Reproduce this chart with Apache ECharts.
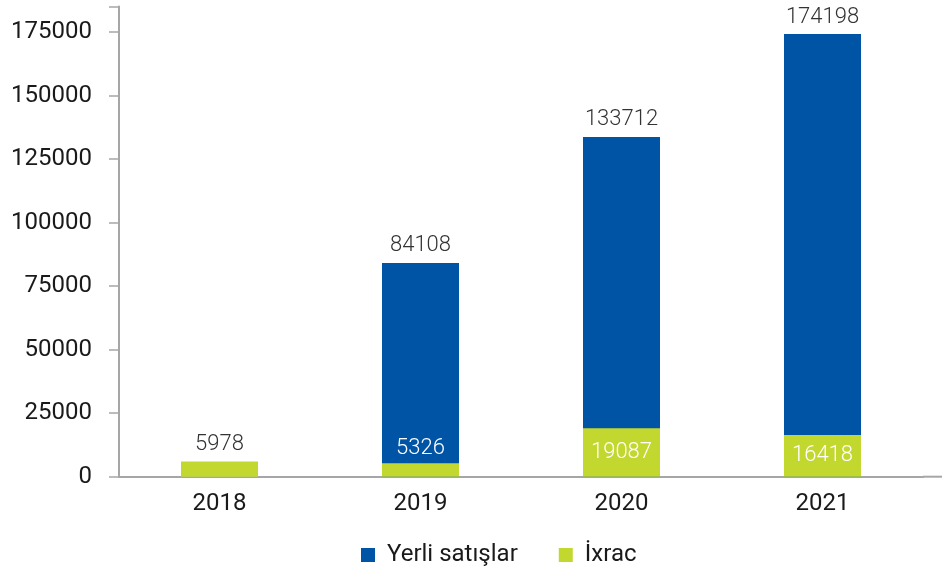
<!DOCTYPE html>
<html>
<head>
<meta charset="utf-8">
<script src="https://cdn.jsdelivr.net/npm/echarts@6/dist/echarts.min.js"></script>
<style>html,body{margin:0;padding:0;background:#fff}#c{width:942px;height:572px}</style>
</head>
<body>
<div id="c"></div>
<script>
const categories = ['2018', '2019', '2020', '2021'];
const seriesNames = ['Yerli satışlar', 'İxrac'];
const yerliTotal = [null, 84108, 133712, 174198];
const ixrac = [5978, 5326, 19087, 16418];
const yTicks = [0, 25000, 50000, 75000, 100000, 125000, 150000, 175000];

const BLUE = '#0054A5';
const GREEN = '#C3D82F';
const AXIS = '#A6A6A6';
const FONT = 'Roboto';

const chart = echarts.init(document.getElementById('c'));
chart.setOption({
  animation: false,
  textStyle: { fontFamily: FONT },
  grid: { left: 119, width: 804, top: 6.6, bottom: 95.3, containLabel: false },
  legend: {
    left: 361, top: 543, padding: 0,
    itemWidth: 14, itemHeight: 14, itemGap: 41,
    icon: 'rect',
    textStyle: { fontFamily: FONT, fontSize: 24, color: '#1a1a1a', padding: [0, 0, 0, 7] },
    data: seriesNames
  },
  xAxis: {
    type: 'category',
    data: categories,
    axisLine: { lineStyle: { color: AXIS, width: 2 } },
    axisTick: { show: false },
    axisLabel: { fontFamily: FONT, fontSize: 24, color: '#1a1a1a', margin: 15 }
  },
  yAxis: {
    type: 'value',
    min: 0, max: 185000, interval: 25000,
    splitLine: { show: false },
    axisLine: { show: true, lineStyle: { color: AXIS, width: 2 } },
    axisTick: { show: true, length: 10, lineStyle: { color: AXIS, width: 1.5 } },
    axisLabel: {
      fontFamily: FONT, fontSize: 24, color: '#1a1a1a', margin: 27,
      formatter: v => (yTicks.indexOf(v) >= 0 ? String(v) : '')
    }
  },
  series: [
    {
      name: seriesNames[0],
      type: 'bar',
      data: yerliTotal,
      barWidth: 77,
      barGap: '-100%',
      itemStyle: { color: BLUE },
      label: {
        show: true, position: 'top', distance: 6,
        fontFamily: FONT, fontWeight: 300, fontSize: 22, color: '#333'
      },
      z: 2
    },
    {
      name: seriesNames[1],
      type: 'bar',
      data: ixrac.map((v, i) => {
        const item = { value: v };
        if (i === 0) item.label = { position: 'top', color: '#333', distance: 6 };
        else if (i === 1) item.label = { position: 'top', color: '#fff', distance: 4 };
        else item.label = { position: 'inside', color: '#fff' };
        return item;
      }),
      barWidth: 77,
      barGap: '-100%',
      itemStyle: { color: GREEN },
      label: { show: true, fontFamily: FONT, fontWeight: 300, fontSize: 22 },
      z: 3
    }
  ],
  graphic: [{
    type: 'line',
    shape: { x1: 923, y1: 476.7, x2: 942, y2: 476.7 },
    style: { stroke: AXIS, lineWidth: 2 }
  }]
});
</script>
</body>
</html>
